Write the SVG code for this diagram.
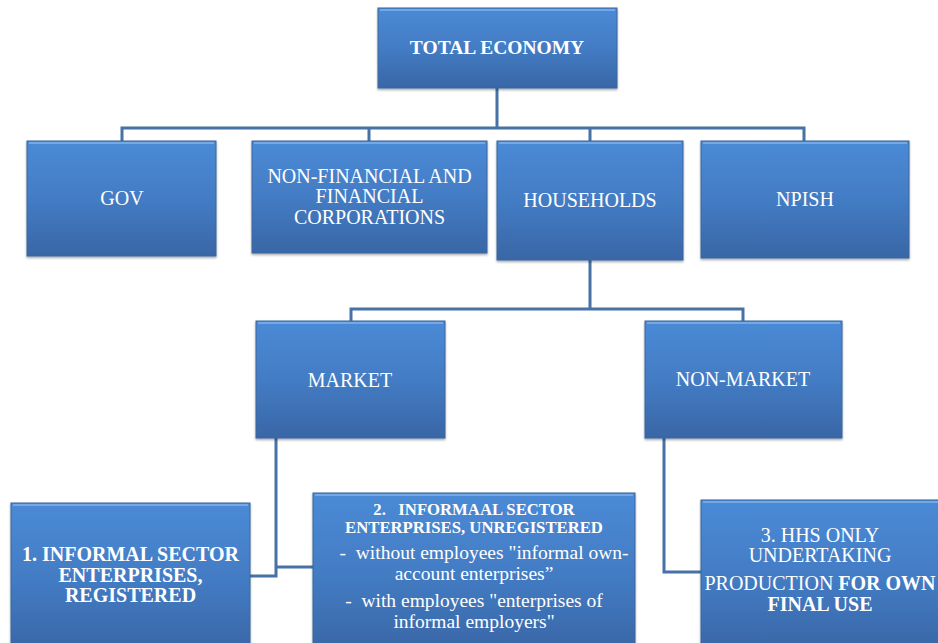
<svg xmlns="http://www.w3.org/2000/svg" width="938" height="643" viewBox="0 0 938 643">
<defs>
<linearGradient id="g" x1="0" y1="0" x2="0" y2="1">
<stop offset="0" stop-color="#4b8ad6"/>
<stop offset="0.5" stop-color="#437cc4"/>
<stop offset="1" stop-color="#3966a6"/>
</linearGradient>
<filter id="sh" x="-5%" y="-5%" width="110%" height="115%">
<feDropShadow dx="0" dy="1.5" stdDeviation="1.2" flood-color="#000" flood-opacity="0.35"/>
</filter>
</defs>
<style>
.box{fill:url(#g);stroke:#3a669e;stroke-width:1;filter:url(#sh)}
.hl{fill:none;stroke:#7fb0ea;stroke-width:2;stroke-opacity:0.8}
.t{fill:#fff;text-anchor:middle}
.r18{font-size:20px}
.r19{font-size:19.5px}
.b18{font-size:20px;font-weight:bold}
.b15{font-size:16.7px;font-weight:bold}
.conn{fill:none;stroke:#4672a6;stroke-width:3}
</style>
<g id="connectors">
<path class="conn" d="M497 88 V128 M122 141 V128 H804 V141 M369 128 V141 M590 128 V141"/>
<path class="conn" d="M590 260 V309 M351 321 V309 H743 V321"/>
<path class="conn" d="M276 438 V576 H249 M276 567 H313"/>
<path class="conn" d="M664 438 V572 H701"/>
</g>
<g font-family="Liberation Serif, Times New Roman, DejaVu Serif, serif">
<g id="total">
<rect class="box" x="378" y="8" width="239" height="80"/>
<path class="hl" d="M380 10 H615"/>
<text class="t" x="497" y="54" font-size="19.5" font-weight="bold">TOTAL ECONOMY</text>
</g>
<g id="gov">
<rect class="box" x="27" y="141" width="189" height="115"/>
<path class="hl" d="M29 143 H214"/>
<text class="t r18" x="122" y="205">GOV</text>
</g>
<g id="nfc">
<rect class="box" x="252" y="141" width="235" height="112"/>
<path class="hl" d="M254 143 H485"/>
<text class="t r18" x="369.5" y="183">NON-FINANCIAL AND</text>
<text class="t r18" x="369.5" y="203">FINANCIAL</text>
<text class="t r18" x="369.5" y="224">CORPORATIONS</text>
</g>
<g id="households">
<rect class="box" x="497" y="141" width="186" height="119"/>
<path class="hl" d="M499 143 H681"/>
<text class="t r18" x="590" y="207">HOUSEHOLDS</text>
</g>
<g id="npish">
<rect class="box" x="701" y="141" width="208" height="117"/>
<path class="hl" d="M703 143 H907"/>
<text class="t r18" x="805" y="206">NPISH</text>
</g>
<g id="market">
<rect class="box" x="256" y="321" width="189" height="117"/>
<path class="hl" d="M258 323 H443"/>
<text class="t r18" x="350" y="387">MARKET</text>
</g>
<g id="nonmarket">
<rect class="box" x="645" y="321" width="197" height="117"/>
<path class="hl" d="M647 323 H840"/>
<text class="t r18" x="743" y="386">NON-MARKET</text>
</g>
<g id="isr">
<rect class="box" x="11" y="503" width="239" height="150"/>
<path class="hl" d="M13 505 H248"/>
<text class="t b18" x="130.5" y="561">1. INFORMAL SECTOR</text>
<text class="t b18" x="130.5" y="582">ENTERPRISES,</text>
<text class="t b18" x="130.5" y="602">REGISTERED</text>
</g>
<g id="isu">
<rect class="box" x="313" y="493" width="322" height="160"/>
<path class="hl" d="M315 495 H633"/>
<text class="t b15" x="474" y="515" xml:space="preserve">2.   INFORMAAL SECTOR</text>
<text class="t b15" x="474" y="533">ENTERPRISES, UNREGISTERED</text>
<text class="t r19" x="484" y="559" xml:space="preserve">-  without employees "informal own-</text>
<text class="t r19" x="474" y="580">account enterprises”</text>
<text class="t r19" x="474" y="607" xml:space="preserve">-  with employees "enterprises of</text>
<text class="t r19" x="474" y="628">informal employers"</text>
</g>
<g id="hhs">
<rect class="box" x="701" y="500" width="240" height="153"/>
<path class="hl" d="M703 502 H939"/>
<text class="t r18" x="820" y="542">3. HHS ONLY</text>
<text class="t r18" x="820" y="562">UNDERTAKING</text>
<text class="t r18" x="820" y="590">PRODUCTION <tspan font-weight="bold">FOR OWN</tspan></text>
<text class="t b18" x="820" y="611">FINAL USE</text>
</g>
</g>
</svg>
